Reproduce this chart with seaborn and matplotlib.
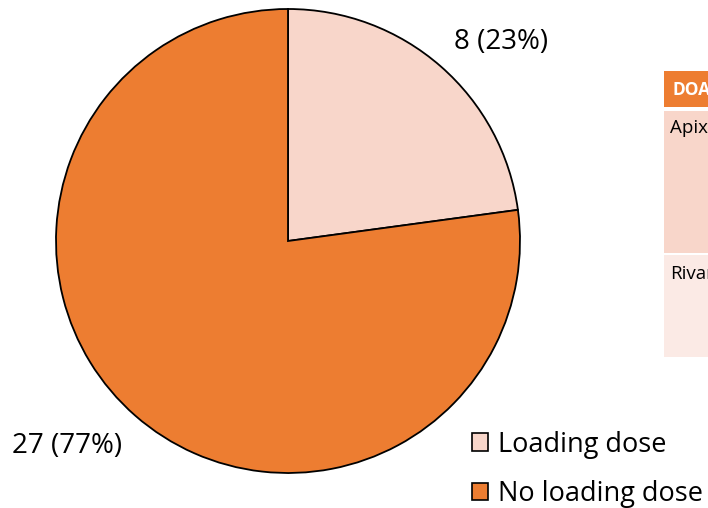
import matplotlib
matplotlib.use("Agg")
import matplotlib.pyplot as plt
import matplotlib.patches as mpatches
import seaborn as sns

# Data
categories = ["Loading dose", "No loading dose"]
counts = [8, 27]
table_header = "DOAC"
table_rows = ["Apixaban", "Rivaroxaban"]

sns.set_theme(style="white")
plt.rcParams["font.family"] = ["Open Sans", "DejaVu Sans"]

orange = "#ED7D31"
light = "#F8D6CA"
row_light = "#FBEAE5"
colors = [light, orange]

W, H = 708, 508
fig = plt.figure(figsize=(W / 100, H / 100), dpi=100)
ax = fig.add_axes([0, 0, 1, 1])


def fy(y):
    """Convert a top-down pixel row to the axes' bottom-up coordinate."""
    return H - y


total = sum(counts)
wedges, _ = ax.pie(
    counts, colors=colors, startangle=90, counterclock=False,
    center=(288, fy(241)), radius=232, frame=True,
    wedgeprops=dict(edgecolor="black", linewidth=1.3),
)
ax.set_xlim(0, W)
ax.set_ylim(0, H)
ax.set_aspect("equal")
ax.axis("off")

label_pos = [(501, 42), (67, 446)]
for (x, y), c in zip(label_pos, counts):
    ax.text(x, fy(y), f"{c} ({round(100 * c / total)}%)", ha="center", va="center",
            fontsize=20, color="black")

# Side table (partly beyond the right edge)
ax.add_patch(mpatches.Rectangle((664, fy(107)), 120, 36, facecolor=orange, edgecolor="none"))
ax.add_patch(mpatches.Rectangle((664, fy(253)), 120, 142, facecolor=light, edgecolor="none"))
ax.add_patch(mpatches.Rectangle((664, fy(357)), 120, 102, facecolor=row_light, edgecolor="none"))
ax.text(672, fy(90), table_header, ha="left", va="center", fontsize=12.5,
        color="white", fontweight="bold")
ax.text(670, fy(128), table_rows[0], ha="left", va="center", fontsize=13.5, color="black")
ax.text(670, fy(274), table_rows[1], ha="left", va="center", fontsize=13.5, color="black")

handles = [mpatches.Patch(facecolor=col, edgecolor="black", linewidth=1.2) for col in colors]
leg = ax.legend(handles, categories, loc="upper left",
                bbox_to_anchor=(458 / W, 1 - 417 / H), frameon=False,
                fontsize=19.5, handlelength=0.6, handleheight=0.6,
                handletextpad=0.37, labelspacing=0.8, borderpad=0)
for t in leg.get_texts():
    t.set_color("black")

fig.savefig("out.png", dpi=100)
